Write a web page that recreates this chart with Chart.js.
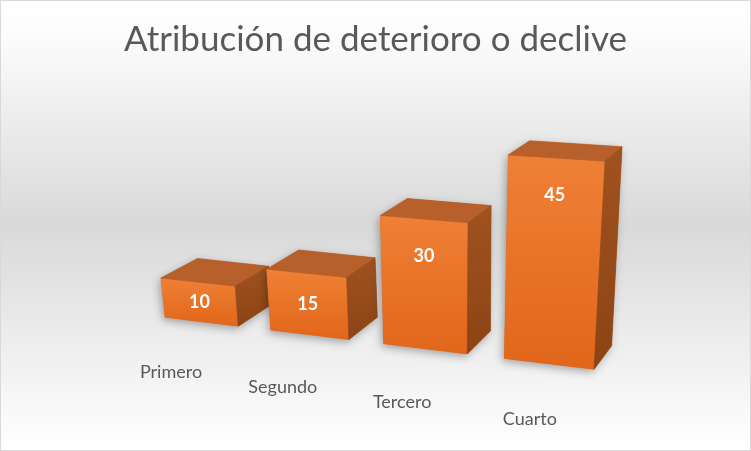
<!DOCTYPE html>
<html>
<head>
<meta charset="utf-8">
<script src="https://cdn.jsdelivr.net/npm/chart.js@4.4.1/dist/chart.umd.min.js"></script>
<style>
html,body{margin:0;padding:0;background:#fff}
#wrap{width:751px;height:451px;position:relative}
</style>
</head>
<body>
<div id="wrap"><canvas id="grafico"></canvas></div>
<script>
// datos del gráfico
const categorias=['Primero','Segundo','Tercero','Cuarto'];
const valores=[10,15,30,45];
const ejeMax=50;
const titulo='Atribución de deterioro o declive';

/* ============================================================ PERSPECTIVA */
// dónde cae en pantalla el plano frontal (unitario s,t) de las columnas
const QUAD={bl:[149.7,315.4],br:[613.8,371.7],tr:[627.9,137.3],tl:[127.0,108.5]};
const FUGA=[994,-168];   // punto de fuga de la profundidad
const PROF=0.044;        // fondo de cada caja, fracción hacia la fuga
const T_ETIQ=-0.145;     // altura (negativa) de las etiquetas de categoría

function homografia(q){
  const [x0,y0]=q.bl,[x1,y1]=q.br,[x2,y2]=q.tr,[x3,y3]=q.tl;
  const dx1=x1-x2,dx2=x3-x2,dx3=x0-x1+x2-x3;
  const dy1=y1-y2,dy2=y3-y2,dy3=y0-y1+y2-y3;
  const den=dx1*dy2-dx2*dy1;
  const g=(dx3*dy2-dx2*dy3)/den, h=(dx1*dy3-dx3*dy1)/den;
  const a=x1-x0+g*x1,b=x3-x0+h*x3,c=x0;
  const d=y1-y0+g*y1,e=y3-y0+h*y3,f=y0;
  return (u,v)=>{const w=g*u+h*v+1;return [(a*u+b*v+c)/w,(d*u+e*v+f)/w];};
}
const H=homografia(QUAD);
const haciaFondo=p=>[p[0]+PROF*(FUGA[0]-p[0]),p[1]+PROF*(FUGA[1]-p[1])];
const haciaFrente=p=>[p[0]-PROF*(FUGA[0]-p[0]),p[1]-PROF*(FUGA[1]-p[1])];

function poly(ctx,pts){
  ctx.beginPath();ctx.moveTo(pts[0][0],pts[0][1]);
  for(let k=1;k<pts.length;k++) ctx.lineTo(pts[k][0],pts[k][1]);
  ctx.closePath();
}
function cara(ctx,pts,fill){
  poly(ctx,pts);ctx.fillStyle=fill;ctx.fill();
  ctx.strokeStyle=fill;ctx.lineWidth=0.6;ctx.stroke();
}

const cubos={
  id:'cubos',
  beforeDraw(chart){
    const ctx=chart.ctx,W=chart.width,Hh=chart.height;
    const gr=ctx.createLinearGradient(0,0,0,Hh);
    gr.addColorStop(0,'#ffffff');
    gr.addColorStop(0.08,'#fcfcfc');
    gr.addColorStop(0.5,'#d9d9d9');
    gr.addColorStop(0.9,'#f8f8f8');
    gr.addColorStop(1,'#ffffff');
    ctx.save();
    ctx.fillStyle=gr;ctx.fillRect(0,0,W,Hh);
    ctx.strokeStyle='#d9d9d9';ctx.lineWidth=1;ctx.strokeRect(0.5,0.5,W-1,Hh-1);
    ctx.restore();
  },
  afterDatasetsDraw(chart){
    const ctx=chart.ctx,ca=chart.chartArea,ys=chart.scales.y,xs=chart.scales.x;
    const y0=ys.getPixelForValue(0),yM=ys.getPixelForValue(ejeMax);
    const st=(px,py)=>H((px-ca.left)/(ca.right-ca.left),(y0-py)/(y0-yM));
    const meta=chart.getDatasetMeta(0);
    ctx.save();
    meta.data.forEach((bar,i)=>{
      const {x,y,base,width}=bar.getProps(['x','y','base','width'],true);
      const fl=st(x-width/2,base),fr=st(x+width/2,base);
      const tr=st(x+width/2,y),tl=st(x-width/2,y);
      const btl=haciaFondo(tl),btr=haciaFondo(tr),bbr=haciaFondo(fr);
      // sombra
      ctx.save();
      ctx.shadowColor='rgba(0,0,0,0.32)';ctx.shadowBlur=9;
      ctx.shadowOffsetX=-2;ctx.shadowOffsetY=3;
      poly(ctx,[fl,fr,bbr,btr,btl,tl]);ctx.fillStyle='#c0601f';ctx.fill();
      ctx.restore();
      // frente
      const gf=ctx.createLinearGradient(0,Math.min(tl[1],tr[1]),0,Math.max(fl[1],fr[1]));
      gf.addColorStop(0,'#ef8036');gf.addColorStop(1,'#e1661a');
      cara(ctx,[fl,fr,tr,tl],gf);
      // techo
      cara(ctx,[tl,tr,btr,btl],'#b7602b');
      // lateral
      const gl=ctx.createLinearGradient(0,btr[1],0,fr[1]);
      gl.addColorStop(0,'#a0521f');gl.addColorStop(1,'#8c4415');
      cara(ctx,[fr,bbr,btr,tr],gl);
      // etiqueta de valor
      const arr=st(x,y),abj=st(x,base);
      const off=Math.min((abj[1]-arr[1])/2,37);
      const fx=arr[0]+(abj[0]-arr[0])*off/(abj[1]-arr[1]);
      ctx.fillStyle='#ffffff';ctx.font='bold 18px Lato';
      ctx.textAlign='center';ctx.textBaseline='middle';
      ctx.fillText(String(chart.data.datasets[0].data[i]),fx,arr[1]+off);
    });
    // etiquetas de categoría sobre el borde del piso
    ctx.fillStyle='#595959';ctx.font='18px Lato';
    ctx.textAlign='center';ctx.textBaseline='middle';
    xs.getLabels().forEach((lab,i)=>{
      const px=xs.getPixelForValue(i);
      const p=haciaFrente(H((px-ca.left)/(ca.right-ca.left),T_ETIQ));
      ctx.fillText(lab,p[0]+2,p[1]);
    });
    ctx.restore();
  }
};

new Chart(document.getElementById('grafico'),{
  type:'bar',
  data:{labels:categorias,datasets:[{data:valores,backgroundColor:'rgba(0,0,0,0)',borderWidth:0,
    barPercentage:0.7,categoryPercentage:1.0}]},
  options:{responsive:true,maintainAspectRatio:false,animation:false,
    plugins:{legend:{display:false},tooltip:{enabled:false},
      title:{display:true,text:titulo,color:'#595959',font:{family:'Lato',size:35,weight:'normal'},
        padding:{top:19,bottom:10}}},
    scales:{x:{display:false,offset:true},y:{display:false,min:0,max:ejeMax}}},
  plugins:[cubos]
});
</script>
</body>
</html>
